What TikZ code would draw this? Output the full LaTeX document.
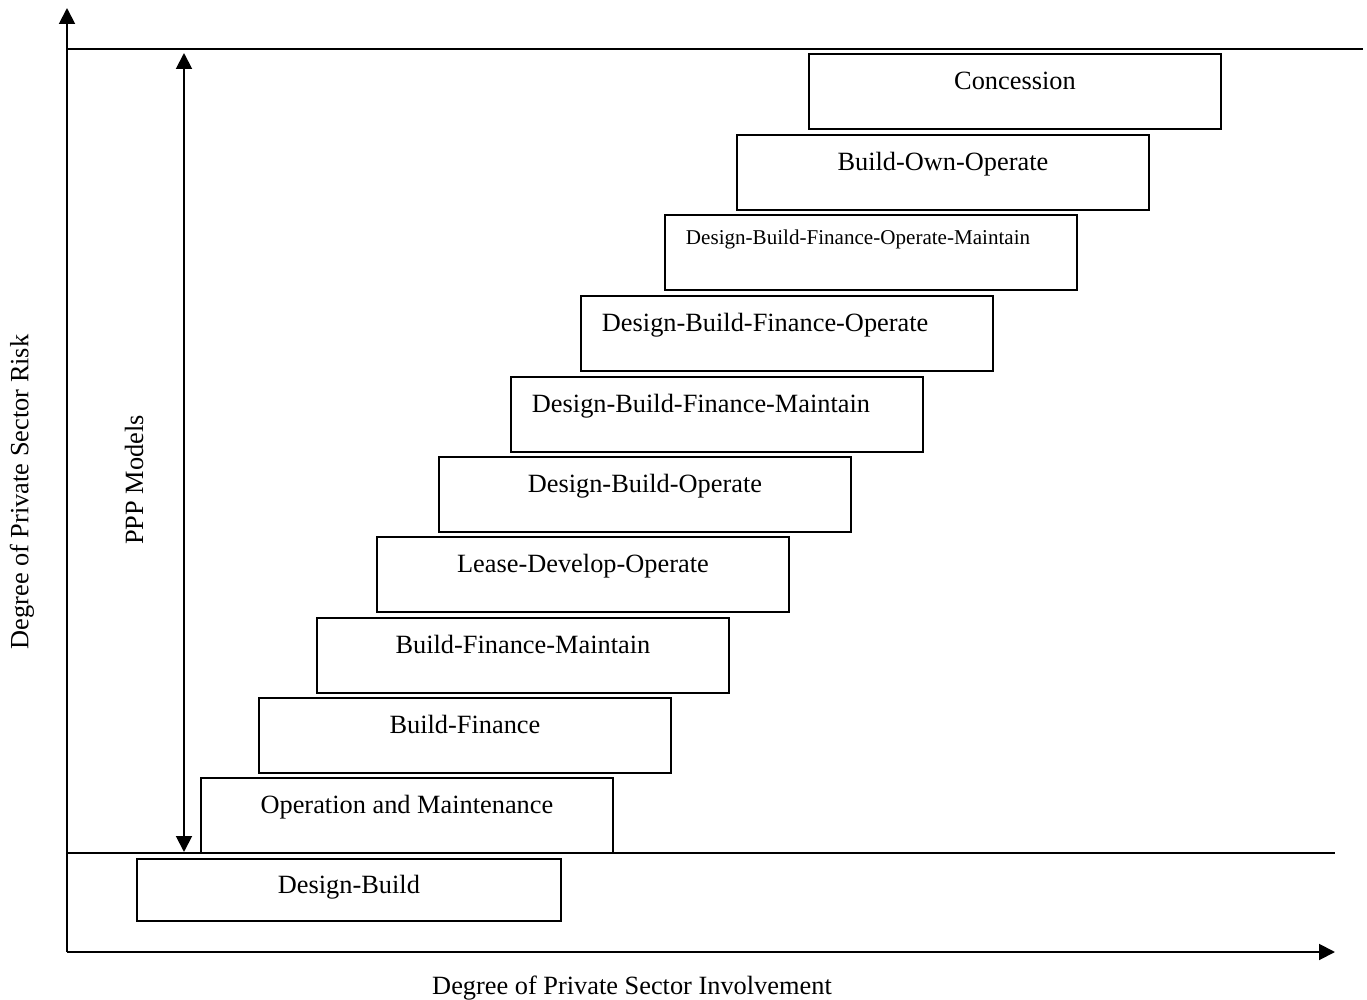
\documentclass[tikz,border=0pt]{standalone}
\usepackage{fontspec}
\setmainfont{Liberation Serif}
\usetikzlibrary{arrows.meta,positioning}

\begin{document}
\begin{tikzpicture}
    [
      x=0.02cm, y=-0.02cm,
      axis/.style={line width=1.1pt,-{Triangle[width=9pt,length=9pt]}},
      level/.style={line width=0.9pt},
      model/.style={draw,line width=1.1pt,anchor=north west,inner sep=0pt,
        minimum width=8.24cm,minimum height=1.5cm,
        text height=0.72cm,text depth=0.78cm,font=\fontsize{15}{18}\selectfont},
      leftmodel/.style={model,inner xsep=0.42cm,text width=7.4cm,align=left},
      caption/.style={font=\fontsize{15}{18}\selectfont},
    ]

    \useasboundingbox (0,0) rectangle (1367,1000);

    % axes
    \coordinate (origin) at (67,952);
    \coordinate (y-end) at (67,8);
    \coordinate (x-end) at (1335,952);
    \draw [axis] (origin) -- (y-end);
    \draw [axis] (origin) -- (x-end);

    % upper and lower limits
    \coordinate (top-l) at (67,49);
    \coordinate (top-r) at (1363,49);
    \coordinate (bot-l) at (67,853);
    \coordinate (bot-r) at (1335,853);
    \draw [level] (top-l) -- (top-r);
    \draw [level] (bot-l) -- (bot-r);

    % models
    \node (dbfom) [leftmodel,font=\fontsize{12}{14}\selectfont,
      text height=0.6cm,text depth=0.9cm] at (664,214) {Design-Build-Finance-Operate-Maintain};
    \node (con) [model] at (808,53) {Concession};
    \node (boo) [model] at (736,134) {Build-Own-Operate};
    \node (dbfo) [leftmodel] at (580,295) {Design-Build-Finance-Operate};
    \node (dbfm) [leftmodel] at (510,376) {Design-Build-Finance-Maintain};
    \node (dbo) [model] at (438,456) {Design-Build-Operate};
    \node (ldo) [model] at (376,536) {Lease-Develop-Operate};
    \node (bfm) [model] at (316,617) {Build-Finance-Maintain};
    \node (bf) [model] at (258,697) {Build-Finance};
    \node (om) [model] at (200,777) {Operation and Maintenance};
    \node (db) [model,minimum width=8.48cm,minimum height=1.24cm,
      text height=0.7cm,text depth=0.54cm] at (136,858) {Design-Build};

    % range of PPP models
    \coordinate (ppp-top) at (184,53);
    \coordinate (ppp-bot) at (184,852);
    \draw [line width=1.1pt,{Triangle[width=9pt,length=9pt]}-{Triangle[width=9pt,length=9pt]}]
      (ppp-top) -- (ppp-bot);

    % labels
    \node (risk) [caption,rotate=90] at (22,492) {Degree of Private Sector Risk};
    \node (ppp) [caption,rotate=90] at (134,480) {PPP Models};
    \node (inv) [caption] at (632,988) {Degree of Private Sector Involvement};

\end{tikzpicture}
\end{document}
